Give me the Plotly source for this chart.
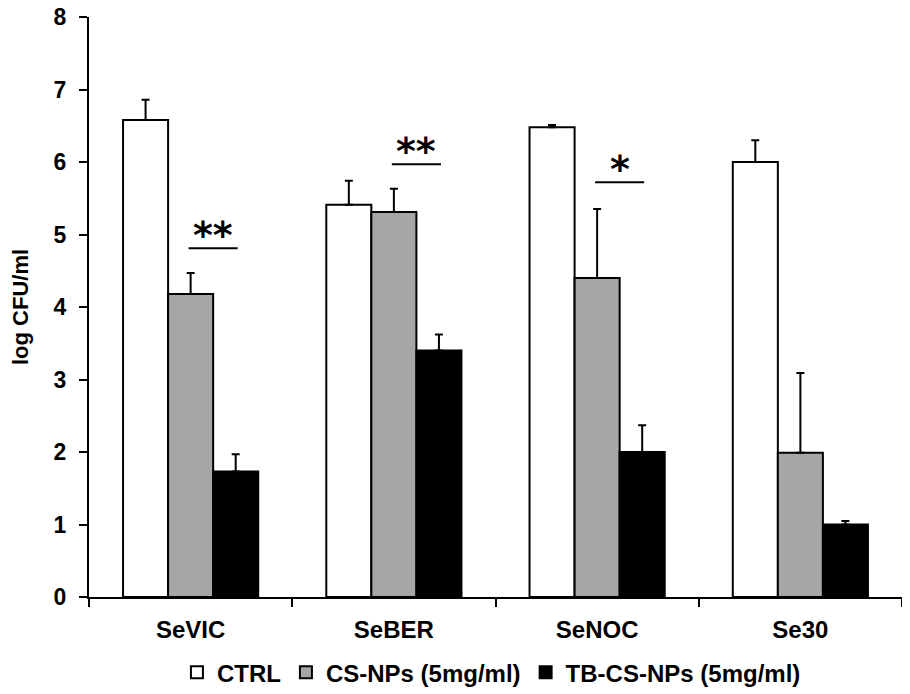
"""Grouped bar chart: log CFU/ml per strain, with upper error bars and significance marks."""

import plotly.graph_objects as go

# ---------------------------------------------------------------------------
# data
# ---------------------------------------------------------------------------
strains = ["SeVIC", "SeBER", "SeNOC", "Se30"]

ctrl = [6.58, 5.41, 6.48, 6.00]
ctrl_err = [0.28, 0.33, 0.03, 0.30]

cs_nps = [4.18, 5.31, 4.40, 1.99]
cs_nps_err = [0.29, 0.32, 0.95, 1.10]

tb_cs_nps = [1.73, 3.40, 2.00, 1.00]
tb_cs_nps_err = [0.24, 0.22, 0.37, 0.05]

# significance between CS-NPs and TB-CS-NPs, per strain
sig_labels = ["**", "**", "*", ""]
sig_heights = [4.81, 5.97, 5.72, None]

y_ticks = [0, 1, 2, 3, 4, 5, 6, 7, 8]

# ---------------------------------------------------------------------------
# styling
# ---------------------------------------------------------------------------
_FONT = "Liberation Sans, Arial, sans-serif"
_BLACK = "#000000"
_GREY = "#a6a6a6"
_BARGAP = 0.335

series = [
    ("CTRL", ctrl, ctrl_err, "#ffffff"),
    ("CS-NPs (5mg/ml)", cs_nps, cs_nps_err, _GREY),
    ("TB-CS-NPs (5mg/ml)", tb_cs_nps, tb_cs_nps_err, _BLACK),
]

fig = go.Figure()
for name, vals, errs, col in series:
    fig.add_trace(go.Bar(
        x=strains, y=vals, name=f"<b>{name}</b>",
        marker=dict(color=col, line=dict(color=_BLACK, width=2)),
        error_y=dict(type="data", array=errs, symmetric=False,
                     arrayminus=[0] * len(errs),
                     color=_BLACK, thickness=2, width=4),
    ))

# significance bars + stars (from CS-NPs bar centre to TB-CS-NPs bar centre)
bar_w = (1 - _BARGAP) / len(series)
for i, (lbl, h) in enumerate(zip(sig_labels, sig_heights)):
    if not lbl:
        continue
    x0, x1 = i - 0.01, i + bar_w + 0.01
    fig.add_shape(type="line", xref="x", yref="y", x0=x0, x1=x1, y0=h, y1=h,
                  line=dict(color=_BLACK, width=2))
    fig.add_annotation(x=(x0 + x1) / 2, y=h, xref="x", yref="y",
                       text=f"<b>{lbl}</b>",
                       showarrow=False, yanchor="bottom", yshift=-11,
                       font=dict(family="DejaVu Sans", size=38, color=_BLACK))

# the page body adds an 8px offset, so the figure is 8px smaller than the window
fig.update_layout(
    width=902, height=686,
    paper_bgcolor="white", plot_bgcolor="white",
    font=dict(family=_FONT, color=_BLACK),
    barmode="group", bargap=_BARGAP, bargroupgap=0,
    margin=dict(l=81, r=8, t=9, b=97, autoexpand=False),
    showlegend=True,
    legend=dict(orientation="h", x=0.495, xanchor="center",
                yref="container", y=0.064, yanchor="top",
                font=dict(size=24, family=_FONT),
                traceorder="normal", itemwidth=30),
)
fig.update_xaxes(
    showline=True, linecolor=_BLACK, linewidth=2,
    ticks="outside", tickson="boundaries", ticklen=8, tickwidth=2,
    tickcolor=_BLACK, showgrid=False, zeroline=False, automargin=False,
    tickfont=dict(size=24), ticklabelstandoff=10,
    tickprefix="<b>", ticksuffix="</b>",
)
fig.update_yaxes(
    range=[0, 8], tickvals=y_ticks, ticktext=[f"<b>{v}</b>" for v in y_ticks],
    showline=True, linecolor=_BLACK, linewidth=2,
    ticks="outside", ticklen=8, tickwidth=2, tickcolor=_BLACK,
    showgrid=False, zeroline=False, tickfont=dict(size=23), automargin=False,
    ticklabelstandoff=8, ticklabeloverflow="allow",
    title=dict(text="<b>log CFU/ml</b>", font=dict(size=22), standoff=22),
)

fig.write_html("out.html")
